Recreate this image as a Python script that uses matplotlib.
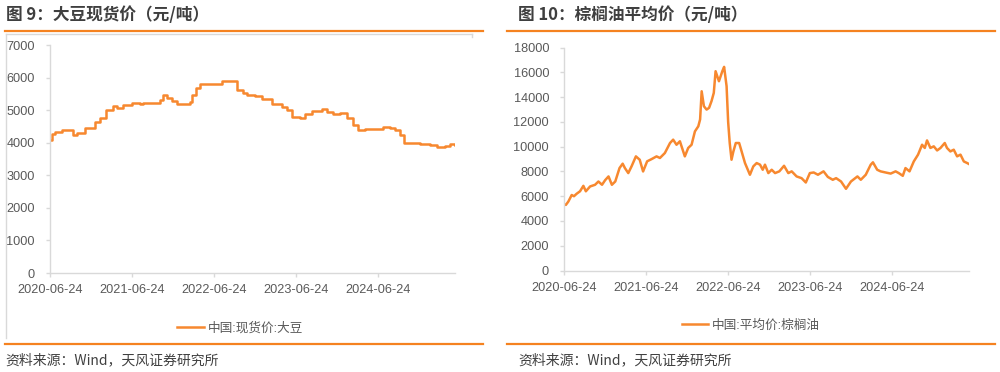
import matplotlib
matplotlib.use("Agg")
import matplotlib.pyplot as plt
from matplotlib.lines import Line2D
import pandas as pd

# ---------------- data ----------------
soy_dates = ["2020-06-24", "2020-07-04", "2020-07-16", "2020-08-15", "2020-10-06", "2020-10-21",
             "2020-11-28", "2021-01-11", "2021-02-02", "2021-03-01", "2021-04-02", "2021-04-17",
             "2021-05-17", "2021-06-22", "2021-07-29", "2021-08-13", "2021-10-27", "2021-11-10",
             "2021-11-25", "2021-12-18", "2022-01-09", "2022-03-08", "2022-03-20", "2022-04-07",
             "2022-04-22", "2022-07-28", "2022-10-03", "2022-11-01", "2022-11-17", "2022-12-23",
             "2023-01-23", "2023-03-08", "2023-04-21", "2023-05-13", "2023-06-05", "2023-07-12",
             "2023-08-03", "2023-09-02", "2023-10-16", "2023-11-08", "2023-12-07", "2024-01-06",
             "2024-02-05", "2024-03-05", "2024-03-27", "2024-04-26", "2024-07-17", "2024-08-16",
             "2024-09-07", "2024-09-30", "2024-10-17", "2024-12-28", "2025-02-11", "2025-03-11",
             "2025-04-18", "2025-05-10", "2025-06-01"]
soy_values = [4080, 4280, 4330, 4400, 4230, 4300,
              4440, 4640, 4770, 5000, 5120, 5080,
              5150, 5230, 5180, 5220, 5300, 5450,
              5380, 5270, 5200, 5250, 5470, 5690,
              5790, 5880, 5610, 5540, 5480, 5440,
              5340, 5190, 5100, 5000, 4790, 4760,
              4890, 4980, 5050, 4950, 4870, 4900,
              4770, 4540, 4390, 4410, 4490, 4450,
              4390, 4230, 4000, 3960, 3920, 3880,
              3910, 3950, 3940]

palm_dates = ["2020-06-24", "2020-07-01", "2020-07-12", "2020-07-27", "2020-08-06", "2020-08-18",
              "2020-09-02", "2020-09-17", "2020-09-28", "2020-10-17", "2020-11-08", "2020-11-23",
              "2020-12-09", "2020-12-23", "2021-01-07", "2021-01-22", "2021-02-06", "2021-02-25",
              "2021-03-11", "2021-03-21", "2021-04-05", "2021-04-20", "2021-05-09", "2021-05-26",
              "2021-06-10", "2021-06-28", "2021-07-18", "2021-08-09", "2021-08-24", "2021-09-15",
              "2021-10-08", "2021-10-22", "2021-11-06", "2021-11-21", "2021-12-13", "2021-12-28",
              "2022-01-12", "2022-01-27", "2022-02-11", "2022-02-19", "2022-02-26", "2022-03-08",
              "2022-03-20", "2022-03-31", "2022-04-11", "2022-04-21", "2022-04-29", "2022-05-14",
              "2022-05-29", "2022-06-06", "2022-06-17", "2022-06-24", "2022-07-01", "2022-07-09",
              "2022-07-17", "2022-07-28", "2022-08-12", "2022-08-23", "2022-09-07", "2022-09-29",
              "2022-10-14", "2022-10-29", "2022-11-13", "2022-11-25", "2022-12-05", "2022-12-20",
              "2023-01-04", "2023-01-19", "2023-02-07", "2023-02-28", "2023-03-19", "2023-04-03",
              "2023-04-25", "2023-05-17", "2023-06-05", "2023-06-23", "2023-07-10", "2023-07-29",
              "2023-08-23", "2023-09-11", "2023-10-03", "2023-10-18", "2023-11-09", "2023-12-01",
              "2023-12-23", "2024-01-21", "2024-02-05", "2024-02-27", "2024-03-20", "2024-03-30",
              "2024-04-18", "2024-05-03", "2024-05-25", "2024-06-17", "2024-07-09", "2024-07-23",
              "2024-08-10", "2024-08-22", "2024-09-09", "2024-09-28", "2024-10-17", "2024-11-04",
              "2024-11-16", "2024-11-26", "2024-12-11", "2024-12-26", "2025-01-10", "2025-01-25",
              "2025-02-13", "2025-02-23", "2025-03-10", "2025-03-25", "2025-04-09", "2025-04-24",
              "2025-05-09", "2025-05-24", "2025-06-01"]
palm_values = [5350, 5300, 5570, 6100, 6000, 6200,
               6400, 6840, 6400, 6790, 6925, 7190,
               6925, 7300, 7600, 6925, 7190, 8275,
               8630, 8275, 7870, 8430, 9220, 8950,
               8000, 8820, 9000, 9220, 9090, 9490,
               10300, 10570, 10160, 10440, 9220, 9900,
               10160, 11240, 11650, 12200, 14480, 13270,
               13000, 13140, 13690, 14350, 16100, 15290,
               16100, 16450, 14890, 12000, 10300, 8950,
               9600, 10300, 10300, 9620, 8680, 7735,
               8410, 8680, 8550, 8140, 8550, 7870,
               8140, 7870, 8010, 8460, 7870, 8010,
               7600, 7460, 7110, 7870, 7920, 7735,
               8010, 7560, 7330, 7460, 7190, 6600,
               7190, 7600, 7330, 7735, 8545, 8740,
               8140, 8010, 7920, 7830, 8010, 7870,
               7650, 8275, 8010, 8810, 9360, 10160,
               9900, 10510, 9900, 10030, 9700, 9900,
               10300, 9900, 9620, 9760, 9220, 9360,
               8810, 8680, 8600]

tick_dates = ["2020-06-24", "2021-06-24", "2022-06-24", "2023-06-24", "2024-06-24"]
x_start, x_end = "2020-06-24", "2025-06-01"

soy_label = "中国:现货价:大豆"
palm_label = "中国:平均价:棕榈油"
titles = ["图 9：大豆现货价（元/吨）", "图 10：棕榈油平均价（元/吨）"]
source = "资料来源：Wind，天风证券研究所"

# ---------------- style ----------------
ORANGE = "#F7882F"
HEAD = "#F58220"
GRID = "#D9D9D9"
TXT = "#595959"
plt.rcParams['font.family'] = ['Liberation Sans', 'Noto Sans CJK SC', 'DejaVu Sans']

fig = plt.figure(figsize=(10, 3.72), dpi=100)
W, H = 1000, 372


def fx(px):
    return px / W


def fy(py):
    return 1 - py / H


def style_axis(ax, yticks, ymax):
    ax.set_xlim(pd.Timestamp(x_start), pd.Timestamp(x_end))
    ax.set_ylim(0, ymax)
    ax.set_yticks(yticks)
    ax.set_xticks(pd.to_datetime(tick_dates))
    ax.set_xticklabels(tick_dates)
    for s in ["top", "right"]:
        ax.spines[s].set_visible(False)
    for s in ["left", "bottom"]:
        ax.spines[s].set_color(GRID)
        ax.spines[s].set_linewidth(1.0)
    ax.tick_params(axis="both", colors=GRID, labelcolor=TXT, labelsize=9.2,
                   length=3, width=1.0, direction="out")
    ax.tick_params(axis="y", pad=8)
    ax.tick_params(axis="x", pad=5)
    ax.set_facecolor("none")


# Left chart
axL = fig.add_axes([fx(50), fy(273), fx(455 - 50), (273 - 45) / H])
axL.plot(pd.to_datetime(soy_dates), soy_values, color=ORANGE, lw=1.8,
         drawstyle="steps-post", label=soy_label)
style_axis(axL, range(0, 7001, 1000), 7000)
axL.legend(loc="center", bbox_to_anchor=(fx(240), fy(328)), bbox_transform=fig.transFigure,
           frameon=False, fontsize=9.1, handlelength=2.1, handletextpad=0.3,
           labelcolor=TXT)

# Right chart
axR = fig.add_axes([fx(564.3), fy(270.5), fx(969 - 564.3), (270.5 - 47.7) / H])
axR.plot(pd.to_datetime(palm_dates), palm_values, color=ORANGE, lw=1.8, label=palm_label)
style_axis(axR, range(0, 18001, 2000), 18000)
axR.legend(loc="center", bbox_to_anchor=(fx(751), fy(325.5)), bbox_transform=fig.transFigure,
           frameon=False, fontsize=9.1, handlelength=2.1, handletextpad=0.3,
           labelcolor=TXT)

# Titles, source
cjk = ['Noto Sans CJK SC', 'DejaVu Sans']
fig.text(fx(6), fy(15), titles[0], fontsize=12, fontweight="bold", color="#3F3F3F",
         va="center", ha="left", family=cjk)
fig.text(fx(518), fy(15), titles[1], fontsize=12, fontweight="bold", color="#3F3F3F",
         va="center", ha="left", family=cjk)
fig.text(fx(5), fy(360), source, fontsize=10, color="#404040", va="center", ha="left",
         family=cjk)
fig.text(fx(518), fy(360), source, fontsize=10, color="#404040", va="center", ha="left",
         family=cjk)

# orange header / footer rules
for (x0, x1) in [(5, 483), (507, 995)]:
    for yy in (31, 344):
        fig.add_artist(Line2D([fx(x0), fx(x1)], [fy(yy), fy(yy)], color=HEAD, lw=1.6,
                              transform=fig.transFigure))

# left chart-area frame (top and left edges)
fig.add_artist(Line2D([fx(5.5), fx(472)], [fy(34), fy(34)], color=GRID, lw=1.0,
                      transform=fig.transFigure))
fig.add_artist(Line2D([fx(472), fx(472)], [fy(34), fy(37)], color=GRID, lw=1.0,
                      transform=fig.transFigure))
fig.add_artist(Line2D([fx(5.5), fx(5.5)], [fy(34), fy(338)], color=GRID, lw=1.0,
                      transform=fig.transFigure))

fig.savefig("out.png", dpi=100, facecolor="white")
